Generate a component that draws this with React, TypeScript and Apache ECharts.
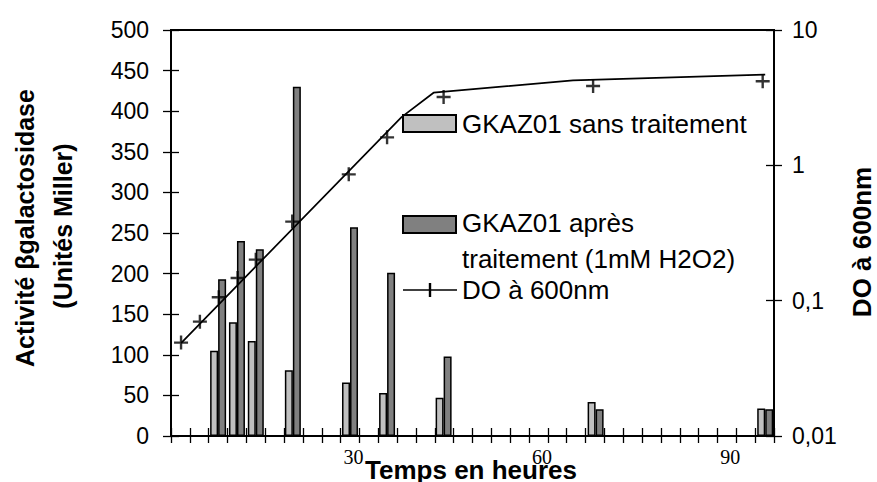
import React, { useEffect, useRef } from "react";
import * as echarts from "echarts";

// Sampling times (hours) of the beta-galactosidase measurements
const hours = [7.5, 10.5, 13.5, 19.4, 28.5, 34.4, 43.4, 67.6, 94.6];
const sansTraitement = [105, 140, 117, 81, 66, 53, 47, 42, 34];
const apresTraitement = [193, 240, 230, 430, 257, 201, 98, 33, 33];

// Optical density at 600 nm (markers)
const odHours = [1.6, 4.6, 7.6, 10.6, 13.5, 19.3, 28.3, 34.4, 43.4, 67.2, 94.2];
const odValues = [0.049, 0.07, 0.106, 0.147, 0.201, 0.384, 0.858, 1.61, 3.2, 3.86, 4.18];

// Growth curve drawn through the OD points
const odCurveHours = [1.6, 36.7, 41.8, 64, 94.6];
const odCurveValues = [0.0486, 2.27, 3.44, 4.25, 4.68];

const xLabelled = [30, 60, 90];

const FONT = "Liberation Sans, Arial, sans-serif";
const SERIF = "Liberation Serif, Times New Roman, serif";
const LIGHT = "#c0c0c0";
const DARK = "#808080";

export default function App() {
  const ref = useRef<HTMLDivElement>(null);

  useEffect(() => {
    if (!ref.current) return;
    const chart = echarts.init(ref.current, undefined, { renderer: "svg" });

    const axisLine = { show: true, onZero: false, lineStyle: { color: "#000", width: 2 } };

    const xBase = {
      type: "value" as const,
      min: 0,
      max: 96,
      interval: 3,
      position: "bottom" as const,
      splitLine: { show: false },
    };
    const leftBase = {
      type: "value" as const,
      min: 0,
      max: 500,
      interval: 50,
      position: "left" as const,
      splitLine: { show: false },
    };
    const rightBase = {
      type: "log" as const,
      logBase: 10,
      min: 0.01,
      max: 10,
      position: "right" as const,
      splitLine: { show: false },
      minorTick: { show: false },
    };

    const option: any = {
      animation: false,
      backgroundColor: "#fff",
      grid: {
        left: 171,
        right: 103,
        top: 30,
        bottom: 46,
        show: true,
        borderColor: "#000",
        borderWidth: 2,
        backgroundColor: "transparent",
      },
      xAxis: [
        {
          ...xBase,
          axisLine,
          axisTick: { show: true, inside: false, length: 7, lineStyle: { color: "#000", width: 1.3 } },
          axisLabel: {
            show: true,
            color: "#000",
            fontFamily: SERIF,
            fontSize: 20,
            margin: 11,
            padding: [0, 12, 0, 0],
            formatter: (v: number) => (xLabelled.includes(Math.round(v)) ? String(Math.round(v)) : ""),
          },
        },
        {
          ...xBase,
          axisLine: { show: false, onZero: false },
          axisTick: { show: true, inside: true, length: 8, lineStyle: { color: "#000", width: 1.3 } },
          axisLabel: { show: false },
        },
      ],
      yAxis: [
        {
          ...leftBase,
          axisLine,
          axisTick: { show: true, inside: false, length: 8, lineStyle: { color: "#000", width: 1.3 } },
          axisLabel: { color: "#000", fontFamily: FONT, fontSize: 23, margin: 22 },
        },
        {
          ...rightBase,
          axisLine,
          axisTick: { show: true, inside: false, length: 8, lineStyle: { color: "#000", width: 1.3 } },
          axisLabel: {
            color: "#000",
            fontFamily: FONT,
            fontSize: 23,
            margin: 18,
            formatter: (v: number) => String(Number(v.toPrecision(3))).replace(".", ","),
          },
        },
        {
          ...leftBase,
          axisLine: { show: false, onZero: false },
          axisTick: { show: true, inside: true, length: 8, lineStyle: { color: "#000", width: 1.3 } },
          axisLabel: { show: false },
        },
        {
          ...rightBase,
          axisLine: { show: false, onZero: false },
          axisTick: { show: true, inside: true, length: 8, lineStyle: { color: "#000", width: 1.3 } },
          axisLabel: { show: false },
        },
      ],
      series: [
        {
          name: "GKAZ01 sans traitement",
          type: "bar",
          xAxisIndex: 0,
          yAxisIndex: 0,
          barWidth: 8,
          barGap: "0%",
          itemStyle: { color: LIGHT, borderColor: "#000", borderWidth: 1.5 },
          data: hours.map((h, i) => [h, sansTraitement[i]]),
        },
        {
          name: "GKAZ01 après traitement (1mM H2O2)",
          type: "bar",
          xAxisIndex: 0,
          yAxisIndex: 0,
          barWidth: 8,
          barGap: "0%",
          itemStyle: { color: DARK, borderColor: "#000", borderWidth: 1.5 },
          data: hours.map((h, i) => [h, apresTraitement[i]]),
        },
        {
          name: "DO courbe",
          type: "line",
          xAxisIndex: 0,
          yAxisIndex: 1,
          showSymbol: false,
          lineStyle: { color: "#000", width: 1.7 },
          z: 5,
          data: odCurveHours.map((h, i) => [h, odCurveValues[i]]),
        },
        {
          name: "DO à 600nm",
          type: "scatter",
          xAxisIndex: 0,
          yAxisIndex: 1,
          symbol: "path://M0,5.8H14V8.2H0Z M5.8,0H8.2V14H5.8Z",
          symbolSize: 14,
          itemStyle: { color: "#000" },
          z: 6,
          data: odHours.map((h, i) => [h, odValues[i]]),
        },
      ],
      graphic: [
        // axis titles
        {
          type: "text",
          x: 25,
          y: 228,
          rotation: Math.PI / 2,
          style: {
            text: "Activité βgalactosidase",
            font: `bold 25px ${FONT}`,
            fill: "#000",
            align: "center",
            verticalAlign: "middle",
          },
        },
        {
          type: "text",
          x: 63,
          y: 226,
          rotation: Math.PI / 2,
          style: {
            text: "(Unités Miller)",
            font: `bold 25px ${FONT}`,
            fill: "#000",
            align: "center",
            verticalAlign: "middle",
          },
        },
        {
          type: "text",
          x: 862,
          y: 242,
          rotation: Math.PI / 2,
          style: {
            text: "DO à 600nm",
            font: `bold 26px ${FONT}`,
            fill: "#000",
            align: "center",
            verticalAlign: "middle",
          },
        },
        {
          type: "text",
          x: 471,
          y: 470,
          style: {
            text: "Temps en heures",
            font: `bold 26px ${FONT}`,
            fill: "#000",
            align: "center",
            verticalAlign: "middle",
          },
        },
        // legend
        {
          type: "rect",
          shape: { x: 403, y: 115, width: 53, height: 17 },
          style: { fill: LIGHT, stroke: "#000", lineWidth: 2 },
        },
        {
          type: "text",
          x: 462,
          y: 124,
          style: { text: "GKAZ01 sans traitement", font: `26px ${FONT}`, fill: "#000", verticalAlign: "middle" },
        },
        {
          type: "rect",
          shape: { x: 403, y: 216, width: 53, height: 17 },
          style: { fill: DARK, stroke: "#000", lineWidth: 2 },
        },
        {
          type: "text",
          x: 462,
          y: 223,
          style: { text: "GKAZ01 après", font: `26px ${FONT}`, fill: "#000", verticalAlign: "middle" },
        },
        {
          type: "text",
          x: 462,
          y: 259,
          style: { text: "traitement (1mM H2O2)", font: `26px ${FONT}`, fill: "#000", verticalAlign: "middle" },
        },
        {
          type: "line",
          shape: { x1: 403, y1: 290, x2: 457, y2: 290 },
          style: { stroke: "#000", lineWidth: 1.7 },
        },
        {
          type: "line",
          shape: { x1: 430, y1: 283, x2: 430, y2: 297 },
          style: { stroke: "#000", lineWidth: 2.4 },
        },
        {
          type: "text",
          x: 462,
          y: 290,
          style: { text: "DO à 600nm", font: `26px ${FONT}`, fill: "#000", verticalAlign: "middle" },
        },
      ],
    };

    chart.setOption(option);
    return () => chart.dispose();
  }, []);

  return (
    <div
      ref={ref}
      style={{ position: "fixed", left: 0, top: 0, width: 877, height: 482, background: "#fff" }}
    />
  );
}
